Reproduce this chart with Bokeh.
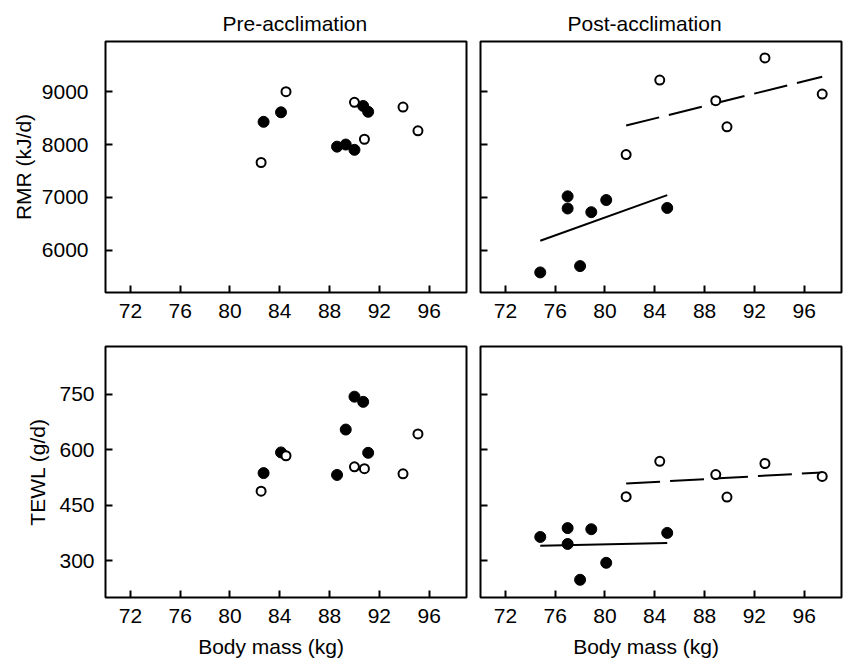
import numpy as np
from bokeh.plotting import figure
from bokeh.layouts import gridplot
from bokeh.models import Range1d, FixedTicker, Label
from bokeh.embed import file_html
from bokeh.resources import INLINE

# ---- data ----
pre_filled_mass = [82.7, 84.1, 88.6, 89.3, 90.0, 90.7, 91.1]
pre_filled_rmr = [8430, 8610, 7960, 8000, 7900, 8730, 8620]
pre_filled_tewl = [537, 593, 532, 655, 744, 730, 592]

pre_open_mass = [82.5, 84.5, 90.0, 90.8, 93.9, 95.1]
pre_open_rmr = [7660, 9000, 8800, 8100, 8710, 8260]
pre_open_tewl = [488, 584, 554, 549, 535, 643]

post_filled_mass = [74.8, 77.0, 77.0, 78.0, 78.9, 80.1, 85.0]
post_filled_rmr = [5580, 7020, 6790, 5700, 6720, 6950, 6800]
post_filled_tewl = [364, 388, 345, 248, 385, 294, 375]

post_open_mass = [81.7, 84.4, 88.9, 89.8, 92.85, 97.45]
post_open_rmr = [7810, 9220, 8830, 8335, 9640, 8955]
post_open_tewl = [473, 569, 533, 472, 563, 528]

x_ticks = [72, 76, 80, 84, 88, 92, 96]
rmr_ticks = [6000, 7000, 8000, 9000]
tewl_ticks = [300, 450, 600, 750]

FONT = "Liberation Sans"
FS = "21px"


def make_panel(width, height, yr, yticks, left, right, top, bottom,
               title=None, title_offset=0, ylabel=None, show_ylabels=True,
               ystandoff=14, ylabel_standoff=10):
    p = figure(width=width, height=height, output_backend="svg",
               toolbar_location=None, x_range=Range1d(70, 99),
               y_range=Range1d(*yr), min_border_left=left,
               min_border_right=right, min_border_top=top,
               min_border_bottom=bottom)
    p.background_fill_color = "white"
    p.border_fill_color = "white"
    p.outline_line_color = "black"
    p.outline_line_width = 2
    p.xgrid.visible = False
    p.ygrid.visible = False
    if title:
        p.title.text = title
        p.title.align = "left"
        p.title.offset = title_offset
        p.title.text_font = FONT
        p.title.text_font_size = FS
        p.title.text_font_style = "normal"
        p.title.text_color = "black"
        p.title.standoff = 14
    for ax in (p.xaxis[0], p.yaxis[0]):
        ax.axis_line_color = None
        ax.major_tick_in = 7
        ax.major_tick_out = 0
        ax.major_tick_line_width = 2
        ax.major_tick_line_color = "black"
        ax.minor_tick_line_color = None
        ax.major_label_text_font = FONT
        ax.major_label_text_font_size = FS
        ax.major_label_text_color = "black"
        ax.axis_label_text_font = FONT
        ax.axis_label_text_font_size = FS
        ax.axis_label_text_font_style = "normal"
        ax.axis_label_text_color = "black"
    p.xaxis.ticker = FixedTicker(ticks=x_ticks)
    p.yaxis.ticker = FixedTicker(ticks=yticks)
    p.xaxis.major_label_standoff = 11
    p.yaxis.major_label_standoff = ystandoff
    if not show_ylabels:
        p.yaxis.major_label_overrides = {t: "" for t in yticks}
        p.yaxis.major_label_standoff = 0
    if ylabel:
        p.yaxis.axis_label = ylabel
        p.yaxis.axis_label_standoff = ylabel_standoff
    return p


def add_xlabel(p, text, x, y):
    # x-axis title in the panel below the axis, positioned in data units
    p.add_layout(Label(x=x, y=y, text=text, text_font=FONT,
                       text_font_size=FS, text_color="black",
                       text_align="center", text_baseline="middle"),
                 "below")


def add_points(p, fx, fy, ox, oy):
    p.scatter(fx, fy, marker="circle", size=11, fill_color="black",
              line_color="black", line_width=1)
    p.scatter(ox, oy, marker="circle", size=9, fill_color="white",
              line_color="black", line_width=2)


def add_fit(p, x, y, dash):
    k, b = np.polyfit(np.array(x, float), np.array(y, float), 1)
    xs = [min(x), max(x)]
    ys = [k * v + b for v in xs]
    p.line(xs, ys, line_color="black", line_width=2, line_dash=dash)


tl = make_panel(473, 328, (5200, 9950), rmr_ticks, 105, 7, 41, 36,
                title="Pre-acclimation", title_offset=117,
                ylabel="RMR (kJ/d)", ystandoff=17, ylabel_standoff=4)
add_points(tl, pre_filled_mass, pre_filled_rmr, pre_open_mass, pre_open_rmr)

tr = make_panel(371, 328, (5200, 9950), rmr_ticks, 7, 3, 41, 36,
                title="Post-acclimation", title_offset=87, show_ylabels=False)
add_fit(tr, post_filled_mass, post_filled_rmr, "solid")
add_fit(tr, post_open_mass, post_open_rmr, "34 10")
add_points(tr, post_filled_mass, post_filled_rmr, post_open_mass, post_open_rmr)

bl = make_panel(473, 334, (200, 880), tewl_ticks, 105, 7, 18, 65,
                ylabel="TEWL (g/d)", ystandoff=11, ylabel_standoff=7)
add_points(bl, pre_filled_mass, pre_filled_tewl, pre_open_mass, pre_open_tewl)
add_xlabel(bl, "Body mass (kg)", 83.3, 68)

br = make_panel(371, 334, (200, 880), tewl_ticks, 7, 3, 18, 65,
                show_ylabels=False)
add_fit(br, post_filled_mass, post_filled_tewl, "solid")
add_fit(br, post_open_mass, post_open_tewl, "34 10")
add_points(br, post_filled_mass, post_filled_tewl, post_open_mass, post_open_tewl)
add_xlabel(br, "Body mass (kg)", 83.3, 68)

grid = gridplot([[tl, tr], [bl, br]], toolbar_location=None)

with open("out.html", "w") as f:
    f.write(file_html(grid, INLINE))
